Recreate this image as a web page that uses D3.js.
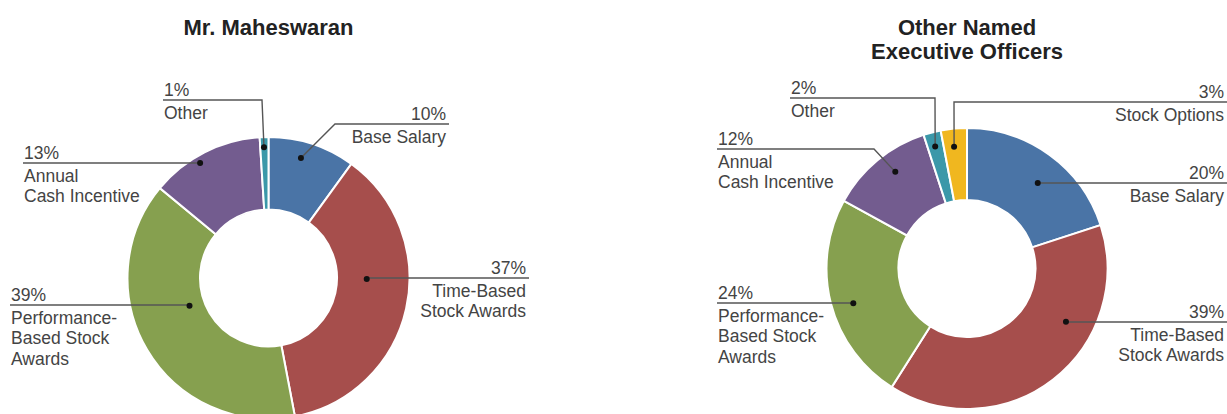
<!DOCTYPE html>
<html>
<head>
<meta charset="utf-8">
<script src="https://cdn.jsdelivr.net/npm/d3@7"></script>
<style>
    body { margin: 0; background: #fff; }
    svg { display: block; font-family: "Liberation Sans", Arial, sans-serif; }
</style>
</head>
<body>
<div id="chart"></div>
<script>
// slice order is clockwise from 12 o'clock
const leftCategories = ["Base Salary", "Time-Based Stock Awards", "Performance-Based Stock Awards", "Annual Cash Incentive", "Other"];
const leftValues = [10, 37, 39, 13, 1];
const leftLabelLines = [["Base Salary"], ["Time-Based", "Stock Awards"], ["Performance-", "Based Stock", "Awards"], ["Annual", "Cash Incentive"], ["Other"]];

const rightCategories = ["Base Salary", "Time-Based Stock Awards", "Performance-Based Stock Awards", "Annual Cash Incentive", "Other", "Stock Options"];
const rightValues = [20, 39, 24, 12, 2, 3];
const rightLabelLines = [["Base Salary"], ["Time-Based", "Stock Awards"], ["Performance-", "Based Stock", "Awards"], ["Annual", "Cash Incentive"], ["Other"], ["Stock Options"]];

const categoryColors = {
    "Base Salary": "#4a74a6",
    "Time-Based Stock Awards": "#a64e4c",
    "Performance-Based Stock Awards": "#86a04f",
    "Annual Cash Incentive": "#735c8f",
    "Other": "#3b98a9",
    "Stock Options": "#f0b71f"
};

class DonutChart {
    constructor(svg, opts) {
        this.svg = svg;
        this.opts = opts;
        this.initVis();
    }

    initVis() {
        let vis = this;
        let o = vis.opts;

        vis.root = vis.svg.append("g").attr("class", "donut");

        vis.g = vis.root.append("g")
            .attr("transform", `translate(${o.cx}, ${o.cy})`);

        vis.labelG = vis.root.append("g").attr("class", "labels");

        vis.title = vis.root.append("text")
            .attr("x", o.cx)
            .attr("text-anchor", "middle")
            .style("font-size", "22px")
            .style("font-weight", "bold")
            .style("fill", "#222");
        vis.title.selectAll("tspan")
            .data(o.title)
            .enter().append("tspan")
            .attr("x", o.cx)
            .attr("y", (d, i) => 35 + i * 23.5)
            .text(d => d);

        vis.pie = d3.pie().sort(null).value(d => d.value);
        vis.arc = d3.arc().innerRadius(o.inner).outerRadius(o.outer);

        vis.displayData = o.categories.map((c, i) => ({
            category: c,
            value: o.values[i],
            lines: o.lines[i],
            layout: o.layout[i]
        }));

        vis.updateVis();
    }

    updateVis() {
        let vis = this;
        let o = vis.opts;
        let arcs = vis.pie(vis.displayData);

        vis.g.selectAll(".slice")
            .data(arcs)
            .enter().append("path")
            .attr("class", "slice")
            .attr("d", vis.arc)
            .attr("fill", d => categoryColors[d.data.category])
            .attr("stroke", "#fff")
            .attr("stroke-width", 2);

        // dot sits inside its slice: fraction t along the angle, rf across the ring
        arcs.forEach(a => {
            let L = a.data.layout;
            let ang = a.startAngle + L.t * (a.endAngle - a.startAngle);
            let r = o.inner + L.rf * (o.outer - o.inner);
            a.dot = [o.cx + r * Math.sin(ang), o.cy - r * Math.cos(ang)];
        });

        let labels = vis.labelG.selectAll(".label")
            .data(arcs)
            .enter().append("g")
            .attr("class", "label");

        labels.append("polyline")
            .attr("points", d => {
                let L = d.data.layout;
                let x0 = L.anchor === "end" ? L.x + 3 : L.x - 1;
                let ex = L.elbowX != null ? L.elbowX : d.dot[0];
                return [[x0, L.uy], [ex, L.uy], d.dot].map(p => p.join(",")).join(" ");
            })
            .attr("fill", "none")
            .attr("stroke", "#555")
            .attr("stroke-width", 1.4);

        labels.append("circle")
            .attr("cx", d => d.dot[0])
            .attr("cy", d => d.dot[1])
            .attr("r", 3)
            .attr("fill", "#111");

        labels.append("text")
            .attr("x", d => d.data.layout.x)
            .attr("y", d => d.data.layout.uy - 4)
            .attr("text-anchor", d => d.data.layout.anchor)
            .style("font-size", "17.5px")
            .style("fill", "#444")
            .text(d => d.data.value + "%");

        labels.append("text")
            .attr("text-anchor", d => d.data.layout.anchor)
            .style("font-size", "17.5px")
            .style("fill", "#444")
            .each(function(d) {
                d3.select(this).selectAll("tspan")
                    .data(d.data.lines)
                    .enter().append("tspan")
                    .attr("x", d.data.layout.x)
                    .attr("y", (s, i) => d.data.layout.uy + 18.5 + i * 20.5)
                    .text(s => s);
            });
    }
}

const svg = d3.select("#chart").append("svg")
    .attr("width", 1227)
    .attr("height", 414);

new DonutChart(svg, {
    cx: 268.5, cy: 278, inner: 68.5, outer: 141,
    title: ["Mr. Maheswaran"],
    categories: leftCategories, values: leftValues, lines: leftLabelLines,
    layout: [
        { anchor: "end", x: 446, uy: 124, elbowX: 335, t: 0.42, rf: 0.77 },
        { anchor: "end", x: 526, uy: 278, t: 0.41, rf: 0.41 },
        { anchor: "start", x: 11, uy: 305, t: 0.58, rf: 0.21 },
        { anchor: "start", x: 24, uy: 163, t: 0.42, rf: 0.90 },
        { anchor: "start", x: 164, uy: 100, elbowX: 262, t: 0.45, rf: 0.86 }
    ]
});

new DonutChart(svg, {
    cx: 967, cy: 268.5, inner: 68.5, outer: 140.5,
    title: ["Other Named", "Executive Officers"],
    categories: rightCategories, values: rightValues, lines: rightLabelLines,
    layout: [
        { anchor: "end", x: 1224, uy: 183, t: 0.55, rf: 0.59 },
        { anchor: "end", x: 1224, uy: 322, t: 0.33, rf: 0.61 },
        { anchor: "start", x: 718, uy: 303, t: 0.47, rf: 0.70 },
        { anchor: "start", x: 718, uy: 149, elbowX: 874, t: 0.57, rf: 0.72 },
        { anchor: "start", x: 791, uy: 98, elbowX: 935, t: 0.47, rf: 0.80 },
        { anchor: "end", x: 1224, uy: 102, elbowX: 954, t: 0.44, rf: 0.75 }
    ]
});
</script>
</body>
</html>
